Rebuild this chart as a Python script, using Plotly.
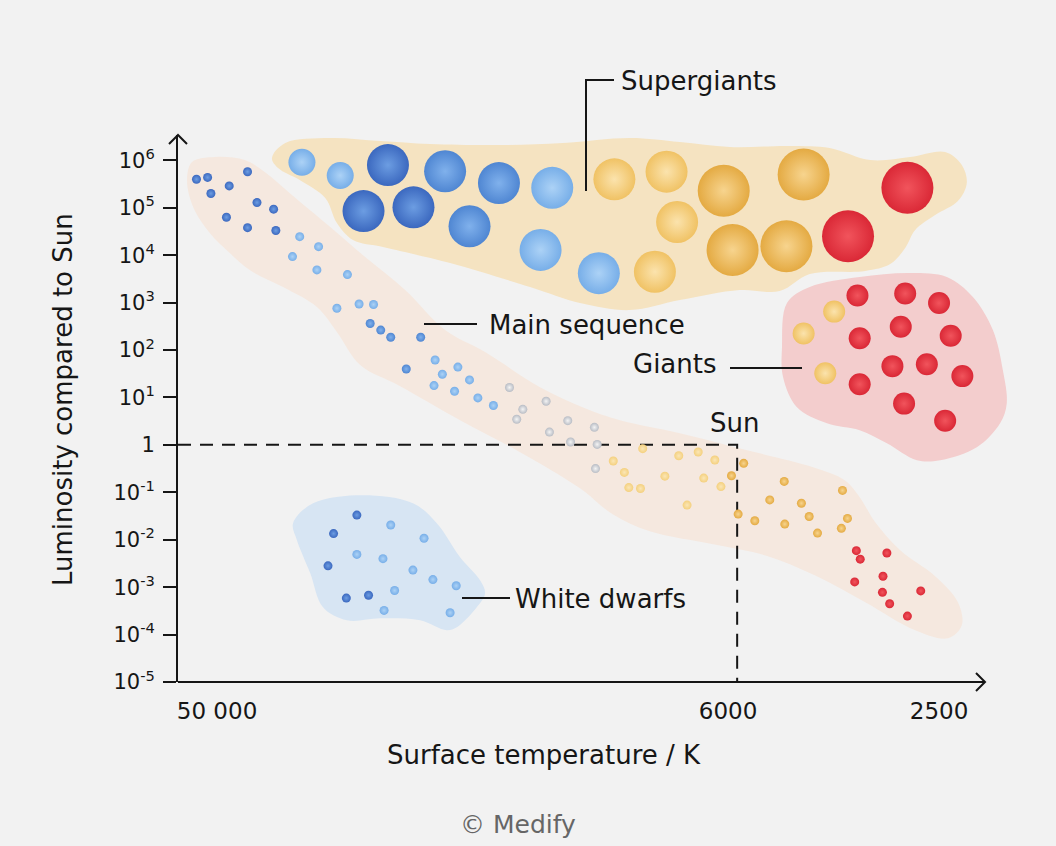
import plotly.graph_objects as go

# ---------------- data (log10 values) ----------------
# Main sequence stars
ms_dark_logT = [4.736, 4.716, 4.710, 4.677, 4.644, 4.627, 4.597, 4.682, 4.644, 4.593]
ms_dark_logL = [5.60, 5.64, 5.30, 5.46, 5.76, 5.11, 4.97, 4.80, 4.58, 4.52]
ms_mid_logT = [4.423, 4.404, 4.386, 4.332, 4.358]
ms_mid_logL = [2.56, 2.42, 2.27, 2.27, 1.60]
ms_light_logT = [4.550, 4.516, 4.563, 4.519, 4.464, 4.483, 4.443, 4.417,
                 4.306, 4.265, 4.293, 4.244, 4.308, 4.271, 4.229, 4.201]
ms_light_logL = [4.39, 4.18, 3.97, 3.69, 3.59, 2.88, 2.97, 2.96,
                 1.79, 1.64, 1.49, 1.37, 1.25, 1.13, 0.99, 0.83]
ms_grey_logT = [4.172, 4.106, 4.148, 4.159, 4.067, 4.100, 4.019, 4.062, 4.014, 4.017]
ms_grey_logL = [1.21, 0.92, 0.75, 0.54, 0.51, 0.27, 0.37, 0.06, 0.01, -0.50]
ms_pale_logT = [3.985, 3.932, 3.965, 3.957, 3.936, 3.892, 3.867, 3.832, 3.802, 3.822, 3.791, 3.852]
ms_pale_logL = [-0.34, -0.08, -0.58, -0.90, -0.92, -0.66, -0.23, -0.15, -0.32, -0.70, -0.88, -1.27]
ms_orange_logT = [3.772, 3.750, 3.760, 3.730, 3.703, 3.677, 3.646, 3.632, 3.676, 3.617, 3.572, 3.563, 3.574]
ms_orange_logL = [-0.65, -0.39, -1.46, -1.60, -1.16, -0.77, -1.23, -1.51, -1.67, -1.86, -0.96, -1.55, -1.76]
ms_red_logT = [3.547, 3.540, 3.492, 3.499, 3.550, 3.500, 3.431, 3.487, 3.455]
ms_red_logL = [-2.23, -2.41, -2.28, -2.77, -2.89, -3.11, -3.08, -3.35, -3.61]

# White dwarfs
wd_dark_logT = [4.447, 4.489, 4.499, 4.466, 4.426]
wd_dark_logL = [-1.48, -1.87, -2.55, -3.23, -3.17]
wd_light_logT = [4.386, 4.326, 4.447, 4.400, 4.346, 4.310, 4.268, 4.379, 4.398, 4.279]
wd_light_logL = [-1.69, -1.97, -2.31, -2.40, -2.64, -2.84, -2.97, -3.07, -3.49, -3.54]

# Supergiants
sg_pale_blue_logT = [4.546, 4.477]
sg_pale_blue_logL = [5.96, 5.68]
sg_dark_blue_logT = [4.391, 4.435, 4.345]
sg_dark_blue_logL = [5.90, 4.93, 5.01]
sg_blue_logT = [4.288, 4.191, 4.244]
sg_blue_logL = [5.77, 5.52, 4.61]
sg_light_blue_logT = [4.095, 4.116, 4.011]
sg_light_blue_logL = [5.42, 4.11, 3.62]
sg_yellow_logT = [3.983, 3.889, 3.870, 3.910]
sg_yellow_logL = [5.60, 5.76, 4.70, 3.65]
sg_orange_logT = [3.786, 3.770, 3.673, 3.642]
sg_orange_logL = [5.36, 4.11, 4.19, 5.70]
sg_red_logT = [3.455, 3.562]
sg_red_logL = [5.42, 4.40]

# Giants
gi_red_logT = [3.545, 3.459, 3.398, 3.541, 3.467, 3.377, 3.541, 3.482, 3.420, 3.356, 3.461, 3.387]
gi_red_logL = [3.15, 3.19, 2.99, 2.25, 2.49, 2.30, 1.28, 1.66, 1.70, 1.45, 0.87, 0.51]
gi_orange_logT = [3.587, 3.642, 3.603]
gi_orange_logL = [2.81, 2.35, 1.51]

# Sun
sun_temp = 5778
sun_lum = 1

# Region outlines (log10 T, log10 L)
band_logT = [4.744, 4.703, 4.649, 4.613, 4.564, 4.495, 4.432, 4.360, 4.288, 4.216, 4.117, 4.036,
             3.973, 3.865, 3.744, 3.625, 3.568, 3.541, 3.513, 3.468, 3.405, 3.364, 3.357, 3.382,
             3.441, 3.531, 3.622, 3.712, 3.805, 3.919, 3.986, 4.045, 4.153, 4.261, 4.369, 4.441,
             4.483, 4.519, 4.580, 4.640, 4.676, 4.712, 4.742, 4.753]
band_logL = [5.964, 6.070, 6.006, 5.753, 5.268, 4.593, 3.960, 3.264, 2.420, 1.956, 1.217, 0.774,
             0.521, 0.247, -0.112, -0.471, -0.745, -1.103, -1.631, -2.222, -2.770, -3.319, -3.804, -4.078,
             -3.909, -3.319, -2.749, -2.327, -2.095, -1.821, -1.462, -0.914, -0.154, 0.521, 1.238, 1.682,
             2.378, 2.905, 3.327, 3.686, 4.044, 4.466, 5.015, 5.584]
sg_region_logT = [4.600, 4.576, 4.495, 4.405, 4.315, 4.189, 4.076, 3.955, 3.865, 3.775, 3.667, 3.595,
                  3.522, 3.450, 3.387, 3.357, 3.348, 3.364, 3.405, 3.441, 3.459, 3.486, 3.531, 3.631,
                  3.685, 3.757, 3.865, 3.955, 4.045, 4.135, 4.279, 4.400, 4.454, 4.483, 4.504, 4.550, 4.589]
sg_region_logL = [6.049, 6.365, 6.470, 6.407, 6.344, 6.323, 6.365, 6.470, 6.386, 6.281, 6.302, 6.260,
                  6.006, 6.070, 6.175, 5.901, 5.521, 5.141, 4.846, 4.530, 4.150, 3.812, 3.665, 3.601,
                  3.243, 3.264, 3.053, 2.842, 2.990, 3.327, 3.833, 4.171, 4.319, 4.677, 5.205, 5.584, 5.838]
gi_region_logT = [3.681, 3.672, 3.631, 3.541, 3.450, 3.384, 3.337, 3.301, 3.283, 3.276, 3.288, 3.330,
                  3.396, 3.438, 3.492, 3.541, 3.600, 3.654, 3.679]
gi_region_logL = [2.061, 2.990, 3.327, 3.538, 3.622, 3.538, 3.116, 2.420, 1.576, 0.880, 0.458, -0.049,
                  -0.323, -0.323, 0.036, 0.310, 0.458, 0.795, 1.428]
wd_region_logT = [4.562, 4.526, 4.436, 4.346, 4.303, 4.261, 4.225, 4.216, 4.231, 4.267, 4.285, 4.333,
                  4.405, 4.465, 4.508, 4.531, 4.555]
wd_region_logL = [-1.652, -1.230, -1.061, -1.230, -1.652, -2.369, -2.854, -3.129, -3.424, -3.846, -3.909,
                  -3.698, -3.656, -3.698, -3.424, -2.707, -2.011]

y_tickvals = [1e-5, 1e-4, 1e-3, 1e-2, 1e-1, 1, 1e1, 1e2, 1e3, 1e4, 1e5, 1e6]
y_ticktext = ["10<sup>-5</sup>", "10<sup>-4</sup>", "10<sup>-3</sup>", "10<sup>-2</sup>",
              "10<sup>-1</sup>", "1", "10<sup>1</sup>", "10<sup>2</sup>", "10<sup>3</sup>",
              "10<sup>4</sup>", "10<sup>5</sup>", "10<sup>6</sup>"]
x_tickvals = [50000, 6000, 2500]
x_ticktext = ["50 000", "6000", "2500"]

# ---------------- layout geometry ----------------
W, H = 1056, 846
ML, MR, MT, MB = 178, 16, 135, 164
PW, PH = W - ML - MR, H - MT - MB
X_RANGE = [4.7693, 3.2161]   # log10 K, hot on the left
Y_RANGE = [-5.0, 6.534]      # log10 L/Lsun

def fx(p):
    return (p - ML) / PW

def fy(p):
    return (H - MB - p) / PH

FONT = "DejaVu Sans"
INK = "#161616"
BG = "#f2f2f2"


def pw(vals):
    return [10 ** v for v in vals]


fig = go.Figure()


def region(lt, ll, color):
    fig.add_trace(go.Scatter(
        x=pw(lt + lt[:1]), y=pw(ll + ll[:1]), mode="lines", fill="toself",
        fillcolor=color, line=dict(width=0, shape="spline", smoothing=1.0),
        hoverinfo="skip", showlegend=False))


region(band_logT, band_logL, "#f5e8df")
region(sg_region_logT, sg_region_logL, "#f5e3c1")
region(gi_region_logT, gi_region_logL, "#f3cdcd")
region(wd_region_logT, wd_region_logL, "#d7e5f3")

# Sun reference lines
fig.add_trace(go.Scatter(
    x=[10 ** X_RANGE[0], sun_temp, sun_temp], y=[sun_lum, sun_lum, 10 ** Y_RANGE[0]],
    mode="lines", line=dict(color=INK, width=2, dash="13px,9px"),
    hoverinfo="skip", showlegend=False, cliponaxis=False))


def stars(lt, ll, size, edge, centre):
    fig.add_trace(go.Scatter(
        x=pw(lt), y=pw(ll), mode="markers",
        marker=dict(size=size, color=edge, line=dict(width=0),
                    gradient=dict(type="radial", color=centre)),
        hoverinfo="skip", showlegend=False, cliponaxis=False))


DARK_BLUE = ("#3b68bf", "#6c9de2")
MID_BLUE = ("#4f86d2", "#80b1ec")
LIGHT_BLUE = ("#77aee8", "#acd2f6")
GREY = ("#b8bcc4", "#f4f4f4")
PALE_YELLOW = ("#f4d07e", "#fbe6b6")
SG_YELLOW = ("#f0c264", "#fbe3ad")
ORANGE = ("#e4aa42", "#f7d48e")
RED = ("#da2836", "#f1545c")

stars(ms_dark_logT, ms_dark_logL, 9, *DARK_BLUE)
stars(ms_mid_logT, ms_mid_logL, 9, *MID_BLUE)
stars(ms_light_logT, ms_light_logL, 9, *LIGHT_BLUE)
stars(ms_grey_logT, ms_grey_logL, 9, *GREY)
stars(ms_pale_logT, ms_pale_logL, 9, *PALE_YELLOW)
stars(ms_orange_logT, ms_orange_logL, 9, *ORANGE)
stars(ms_red_logT, ms_red_logL, 9, *RED)

stars(wd_dark_logT, wd_dark_logL, 9, *DARK_BLUE)
stars(wd_light_logT, wd_light_logL, 9, *LIGHT_BLUE)

stars(sg_pale_blue_logT, sg_pale_blue_logL, 27, *LIGHT_BLUE)
stars(sg_dark_blue_logT, sg_dark_blue_logL, 42, *DARK_BLUE)
stars(sg_blue_logT, sg_blue_logL, 42, *MID_BLUE)
stars(sg_light_blue_logT, sg_light_blue_logL, 42, *LIGHT_BLUE)
stars(sg_yellow_logT, sg_yellow_logL, 42, *SG_YELLOW)
stars(sg_orange_logT, sg_orange_logL, 52, *ORANGE)
stars(sg_red_logT, sg_red_logL, 52, *RED)

stars(gi_red_logT, gi_red_logL, 22, *RED)
stars(gi_orange_logT, gi_orange_logL, 22, *SG_YELLOW)

# ---------------- decorations ----------------
line_style = dict(color=INK, width=2)
shapes = [
    # x axis line with arrow
    dict(type="line", xref="paper", yref="paper", x0=0, y0=0, x1=fx(985), y1=0, line=line_style),
    dict(type="path", xref="paper", yref="paper",
         path=f"M {fx(976)},{fy(673)} L {fx(985)},{fy(682)} L {fx(976)},{fy(691)}", line=line_style),
    # y axis arrow
    dict(type="path", xref="paper", yref="paper",
         path=f"M {fx(169)},{fy(144)} L {fx(178)},{fy(135)} L {fx(187)},{fy(144)}", line=line_style),
    # leader lines
    dict(type="path", xref="paper", yref="paper",
         path=f"M {fx(586)},{fy(191)} L {fx(586)},{fy(80)} L {fx(614)},{fy(80)}", line=line_style),
    dict(type="line", xref="paper", yref="paper", x0=fx(424), y0=fy(324), x1=fx(477), y1=fy(324), line=line_style),
    dict(type="line", xref="paper", yref="paper", x0=fx(730), y0=fy(368), x1=fx(802), y1=fy(368), line=line_style),
    dict(type="line", xref="paper", yref="paper", x0=fx(462), y0=fy(598), x1=fx(510), y1=fy(598), line=line_style),
]


def label(text, x, y, xanchor="left", size=26, color=INK, angle=0):
    return dict(text=text, xref="paper", yref="paper", x=fx(x), y=fy(y), xanchor=xanchor,
                yanchor="middle", showarrow=False, textangle=angle,
                font=dict(family=FONT, size=size, color=color))


annotations = [
    label("Supergiants", 619, 81),
    label("Main sequence", 487, 325),
    label("Giants", 719, 364, xanchor="right"),
    label("Sun", 734, 423, xanchor="center"),
    label("White dwarfs", 513, 599),
    label("Surface temperature / K", 544, 755, xanchor="center"),
    label("Luminosity compared to Sun", 63, 400, xanchor="center", angle=-90),
    label("© Medify", 518, 824, xanchor="center", size=25, color="#666666"),
]

fig.update_layout(
    width=W, height=H,
    margin=dict(l=ML, r=MR, t=MT, b=MB, pad=0),
    paper_bgcolor=BG, plot_bgcolor=BG,
    showlegend=False, hovermode=False,
    font=dict(family=FONT, color=INK),
    shapes=shapes, annotations=annotations,
    xaxis=dict(type="log", range=X_RANGE, autorange=False, showgrid=False, zeroline=False,
               showline=False, ticks="", tickvals=x_tickvals, ticktext=x_ticktext,
               tickfont=dict(family=FONT, size=23, color=INK), ticklabelstandoff=13),
    yaxis=dict(type="log", range=Y_RANGE, autorange=False, showgrid=False, zeroline=False,
               showline=True, linecolor=INK, linewidth=2, ticks="outside", ticklen=13,
               tickwidth=2, tickcolor=INK, tickvals=y_tickvals, ticktext=y_ticktext,
               tickfont=dict(family=FONT, size=21, color=INK), ticklabelstandoff=4),
)

fig.write_html(
    "out.html",
    config={"displayModeBar": False},
    post_script=("document.body.style.margin='0';"
                 "document.body.style.padding='0';"
                 "document.body.style.background='" + BG + "';"
                 "document.documentElement.style.overflow='hidden';"),
)
